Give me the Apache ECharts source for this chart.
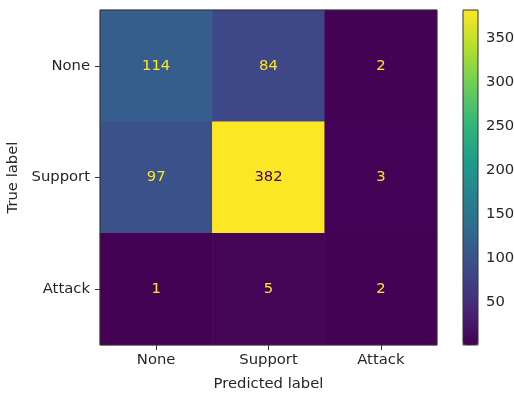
<!DOCTYPE html>
<html>
<head>
<meta charset="utf-8">
<script src="https://cdn.jsdelivr.net/npm/echarts@6/dist/echarts.min.js"></script>
<style>
  html, body { margin: 0; padding: 0; background: #fff; }
  #main { width: 514px; height: 395px; }
</style>
</head>
<body>
<div id="main"></div>
<script>
// confusion matrix: rows = true label, cols = predicted label
const labels = ['None', 'Support', 'Attack'];
const matrix = [
    [114, 84, 2],
    [97, 382, 3],
    [1, 5, 2]
];
const colorbarTicks = [50, 100, 150, 200, 250, 300, 350];

const viridis = ['#440154', '#482878', '#3e4989', '#31688e', '#26828e',
                 '#1f9e89', '#35b779', '#6ece58', '#b5de2b', '#fde725'];

let vmin = Infinity, vmax = -Infinity;
matrix.forEach(r => r.forEach(v => { vmin = Math.min(vmin, v); vmax = Math.max(vmax, v); }));
const thresh = (vmin + vmax) / 2;

let cells = [];
for (let i = 0; i < matrix.length; i++)
    for (let j = 0; j < matrix[i].length; j++) {
        let v = matrix[i][j];
        cells.push({
            value: [j, i, v],
            label: {color: v < thresh ? '#fde725' : '#440154'}
        });
    }

const font = 'DejaVu Sans';
const fs = 14.8;
const textColor = '#262626';

let myChart = echarts.init(document.getElementById('main'), null, {renderer: 'canvas'});

let option = {
    backgroundColor: '#fff',
    animation: false,
    textStyle: {fontFamily: font},
    grid: [
        {left: 100, top: 10, width: 337, height: 335, outerBoundsMode: 'none', containLabel: false,
         show: true, borderColor: '#333', borderWidth: 1, backgroundColor: 'transparent', z: 5},
        {left: 463, top: 10, width: 15, height: 335, outerBoundsMode: 'none', containLabel: false,
         show: true, borderColor: '#333', borderWidth: 1, backgroundColor: 'transparent', z: 5}
    ],
    xAxis: [
        {
            gridIndex: 0, type: 'category', data: labels, position: 'bottom',
            name: 'Predicted label', nameLocation: 'middle', nameGap: 32,
            nameTextStyle: {fontSize: fs, color: textColor, fontFamily: font},
            axisLine: {show: false},
            axisTick: {show: true, alignWithLabel: true, length: 5, lineStyle: {color: '#333'}},
            axisLabel: {fontSize: fs, color: textColor, fontFamily: font, margin: 8},
            splitLine: {show: false}
        },
        {
            gridIndex: 1, type: 'value', show: false, min: 0, max: 1
        }
    ],
    yAxis: [
        {
            gridIndex: 0, type: 'category', data: labels, inverse: true,
            name: 'True label', nameLocation: 'middle', nameGap: 78, nameRotate: 90,
            nameTextStyle: {fontSize: fs, color: textColor, fontFamily: font},
            axisLine: {show: false},
            axisTick: {show: true, alignWithLabel: true, length: 5, lineStyle: {color: '#333'}},
            axisLabel: {fontSize: fs, color: textColor, fontFamily: font, margin: 10},
            splitLine: {show: false}
        },
        {
            gridIndex: 1, type: 'value', min: vmin, max: vmax, position: 'right',
            axisLine: {show: false},
            axisTick: {show: true, length: 5, lineStyle: {color: '#333'}, customValues: colorbarTicks},
            axisLabel: {fontSize: fs, color: textColor, fontFamily: font, margin: 8, customValues: colorbarTicks},
            splitLine: {show: false}
        }
    ],
    visualMap: {
        type: 'continuous',
        min: vmin, max: vmax,
        seriesIndex: 0,
        calculable: false,
        show: true,
        left: 463, top: 10,
        itemWidth: 15, itemHeight: 335,
        padding: 0,
        text: null,
        showLabel: false,
        hoverLink: false,
        inRange: {color: viridis},
        textStyle: {color: 'transparent'}
    },
    series: [{
        type: 'heatmap',
        xAxisIndex: 0, yAxisIndex: 0,
        data: cells,
        label: {show: true, fontSize: fs, fontFamily: font},
        itemStyle: {borderWidth: 0}
    }]
};
myChart.setOption(option);
</script>
</body>
</html>
